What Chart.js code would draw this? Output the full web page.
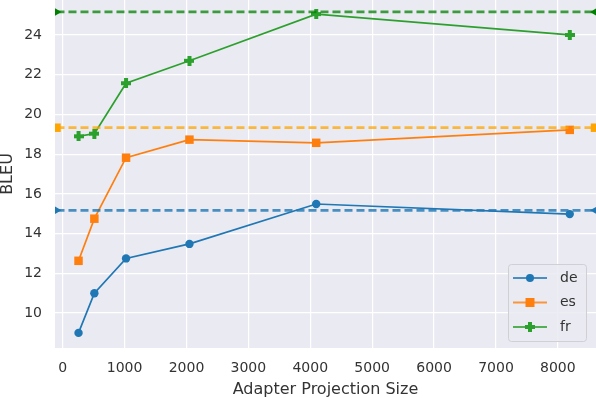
<!DOCTYPE html>
<html>
<head>
<meta charset="utf-8">
<script src="https://cdn.jsdelivr.net/npm/chart.js@4"></script>
<style>
  html, body { margin: 0; padding: 0; background: #ffffff; }
  canvas { display: block; }
</style>
</head>
<body>
<canvas id="chart" width="596" height="398"></canvas>
<script>
// data
const sizes = [256, 512, 1024, 2048, 4096, 8192];
const languages = ['de', 'es', 'fr'];
const bleuDe = [9.0, 11.0, 12.75, 13.48, 15.49, 14.98];
const bleuEs = [12.63, 14.75, 17.82, 18.73, 18.57, 19.22];
const bleuFr = [18.9, 19.03, 21.57, 22.7, 25.05, 24.0];
const baselines = [15.17, 19.33, 25.16];
const baselineSpan = [-100, 8600];
const xTicks = [0, 1000, 2000, 3000, 4000, 5000, 6000, 7000, 8000];
const yTicks = [10, 12, 14, 16, 18, 20, 22, 24];

const lineColors = ['#1f77b4', '#ff7f0e', '#2ca02c'];
const dashColors = ['rgba(31,119,180,0.8)', 'rgba(255,165,0,0.75)', 'rgba(0,128,0,0.75)'];
const dashMarkerColors = ['#1f77b4', '#ffa500', '#008000'];
const legendLineColors = ['rgba(31,119,180,0.8)', 'rgba(255,127,14,0.8)', 'rgba(44,160,44,0.8)'];

// filled plus marker ("P" in matplotlib)
function plusMarker(color) {
  const c = document.createElement('canvas');
  c.width = 10; c.height = 10;
  const g = c.getContext('2d');
  g.fillStyle = color;
  g.fillRect(3, 0, 4, 10);
  g.fillRect(0, 3, 10, 4);
  return c;
}

const pointStyles = ['circle', 'rect', plusMarker('#2ca02c')];
const series = [bleuDe, bleuEs, bleuFr];

const datasets = [];
series.forEach((vals, i) => {
  datasets.push({
    label: languages[i],
    data: sizes.map((s, k) => ({ x: s, y: vals[k] })),
    borderColor: lineColors[i],
    backgroundColor: lineColors[i],
    borderWidth: 1.7,
    pointStyle: pointStyles[i],
    pointRadius: i === 1 ? 6 : 4.2,
    pointBorderWidth: 0,
    pointHoverRadius: 4,
    tension: 0,
    order: 2
  });
});
baselines.forEach((b, i) => {
  datasets.push({
    label: languages[i] + ' baseline',
    data: baselineSpan.map(x => ({ x: x, y: b })),
    borderColor: dashColors[i],
    backgroundColor: dashMarkerColors[i],
    borderWidth: 2.8,
    borderDash: [8, 4],
    pointStyle: i === 1 ? 'rect' : 'triangle',
    pointRotation: i === 1 ? 0 : [90, -90],
    pointRadius: i === 1 ? 6 : 5,
    pointBorderWidth: 0,
    order: 1
  });
});

// legend box inside the lower right corner of the plot
const legendBox = {
  id: 'legendBox',
  afterDatasetsDraw(chart) {
    const ctx = chart.ctx;
    const x0 = 508, y0 = 264, w = 78, h = 77;
    ctx.save();
    ctx.fillStyle = 'rgba(234,234,242,0.85)';
    ctx.strokeStyle = '#cfcfd4';
    ctx.lineWidth = 1;
    ctx.beginPath();
    ctx.roundRect(x0 + 0.5, y0 + 0.5, w, h, 3);
    ctx.fill();
    ctx.stroke();
    languages.forEach((lang, i) => {
      const y = y0 + 14 + i * 24.5;
      ctx.strokeStyle = legendLineColors[i];
      ctx.lineWidth = 2.2;
      ctx.beginPath();
      ctx.moveTo(x0 + 5, y);
      ctx.lineTo(x0 + 39, y);
      ctx.stroke();
      ctx.fillStyle = lineColors[i];
      const cx = x0 + 22;
      if (i === 0) {
        ctx.beginPath();
        ctx.arc(cx, y, 4, 0, Math.PI * 2);
        ctx.fill();
      } else if (i === 1) {
        ctx.fillRect(cx - 4.5, y - 4.5, 9, 9);
      } else {
        ctx.drawImage(pointStyles[2], cx - 5, y - 5);
      }
      ctx.fillStyle = '#333333';
      ctx.font = '14px "DejaVu Sans"';
      ctx.textBaseline = 'middle';
      ctx.fillText(lang, x0 + 52, y);
    });
    ctx.restore();
  }
};

function noPad(s) {
  s.paddingTop = 0; s.paddingBottom = 0; s.paddingLeft = 0; s.paddingRight = 0;
}

Chart.defaults.font.family = '"DejaVu Sans", sans-serif';
Chart.defaults.font.size = 14;
Chart.defaults.color = '#333333';

new Chart(document.getElementById('chart'), {
  type: 'line',
  data: { datasets: datasets },
  options: {
    responsive: false,
    animation: false,
    devicePixelRatio: 1,
    layout: { padding: 0, autoPadding: false },
    plugins: {
      legend: { display: false },
      tooltip: { enabled: false }
    },
    scales: {
      x: {
        type: 'linear',
        min: -124,
        max: 8616,
        afterBuildTicks: s => { s.ticks = xTicks.map(v => ({ value: v })); },
        afterFit: s => { s.height = 50; noPad(s); },
        grid: { color: '#ffffff', lineWidth: 1.2, drawTicks: false },
        border: { display: false },
        ticks: { padding: 12, maxRotation: 0, color: '#333333', callback: v => String(v) },
        title: {
          display: true, text: 'Adapter Projection Size', color: '#333333',
          font: { size: 16, lineHeight: 1.0 }, padding: { top: 0, bottom: 0 }
        }
      },
      y: {
        type: 'linear',
        min: 8.24,
        max: 25.76,
        afterBuildTicks: s => { s.ticks = yTicks.map(v => ({ value: v })); },
        afterFit: s => { s.width = 55; noPad(s); },
        grid: { color: '#ffffff', lineWidth: 1.2, drawTicks: false },
        border: { display: false },
        ticks: { padding: 13, color: '#333333', callback: v => String(v) },
        title: {
          display: true, text: 'BLEU', color: '#333333',
          font: { size: 16, lineHeight: 1.0 }, padding: { top: 0, bottom: 0 }
        }
      }
    }
  },
  plugins: [{
    id: 'plotBackground',
    beforeDraw(chart) {
      const a = chart.chartArea, ctx = chart.ctx;
      ctx.save();
      ctx.fillStyle = '#eaeaf2';
      ctx.fillRect(a.left, a.top, a.right - a.left, a.bottom - a.top);
      ctx.restore();
    }
  }, legendBox]
});
</script>
</body>
</html>
